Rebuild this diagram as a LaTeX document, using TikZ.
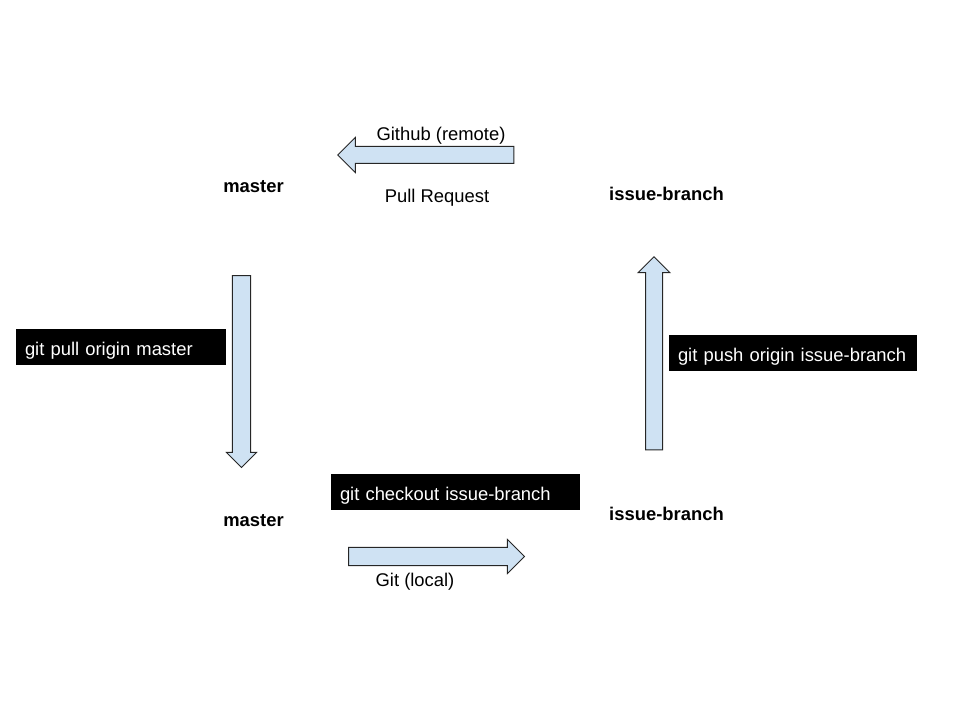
\documentclass[tikz,border=0pt]{standalone}
\usepackage{fontspec}
\setmainfont{Liberation Sans}
\usetikzlibrary{shapes.arrows}
\definecolor{arrow_blue}{RGB}{207, 226, 243}
\tikzstyle{cmd}=[rectangle,fill=black,text=white,inner xsep=6.75pt,
  minimum height=27pt,align=left,text height=16pt,text depth=2.8pt]
\tikzstyle{branch}=[font=\fontsize{13.8}{16.5}\selectfont\bfseries]
\tikzstyle{blockarrow}=[single arrow,fill=arrow_blue,draw=black!85,
  line width=0.75pt,minimum width=1pt]
\tikzstyle{none}=[]

\begin{document}
\begin{tikzpicture}[x=0.75pt, y=-0.75pt, every node/.style={font=\fontsize{13.8}{16.5}\selectfont}]
		\useasboundingbox (0, 0) rectangle (960, 720);
		\node [style=branch] (0) at (253.5, 187) {master};
		\node [style=branch] (1) at (666.5, 194) {issue-branch};
		\node [style=branch] (2) at (253.5, 521) {master};
		\node [style=branch] (3) at (666.5, 514) {issue-branch};
		\node [style=none] (4) at (441, 136) {Github (remote)};
		\node [style=none] (5) at (437, 198) {Pull Request};
		\node [style=none] (6) at (415, 582) {Git (local)};
		\node [style=cmd, text width=144pt] (7) at (121, 347) {\mbox{git pull origin master}};
		\node [style=cmd, text width=172.5pt] (8) at (793, 352.5) {\mbox{git push origin issue-branch}};
		\node [style=cmd, text width=173.25pt] (9) at (455.5, 492) {\mbox{git checkout issue-branch}};
		\node [style=blockarrow, shape border rotate=180, minimum height=132pt,
			inner xsep=0pt, inner ysep=6pt, single arrow head extend=6.75pt] (10) at (430, 155) {};
		\node [style=blockarrow, shape border rotate=270, minimum height=144pt,
			inner ysep=0pt, inner xsep=6.4pt, single arrow head extend=4.5pt] (11) at (241.5, 367) {};
		\node [style=blockarrow, shape border rotate=90, minimum height=144.75pt,
			inner ysep=0pt, inner xsep=6pt, single arrow head extend=5.6pt] (12) at (654, 357.5) {};
		\node [style=blockarrow, minimum height=132pt,
			inner xsep=0pt, inner ysep=6.4pt, single arrow head extend=6pt] (13) at (432, 556.5) {};
\end{tikzpicture}
\end{document}
